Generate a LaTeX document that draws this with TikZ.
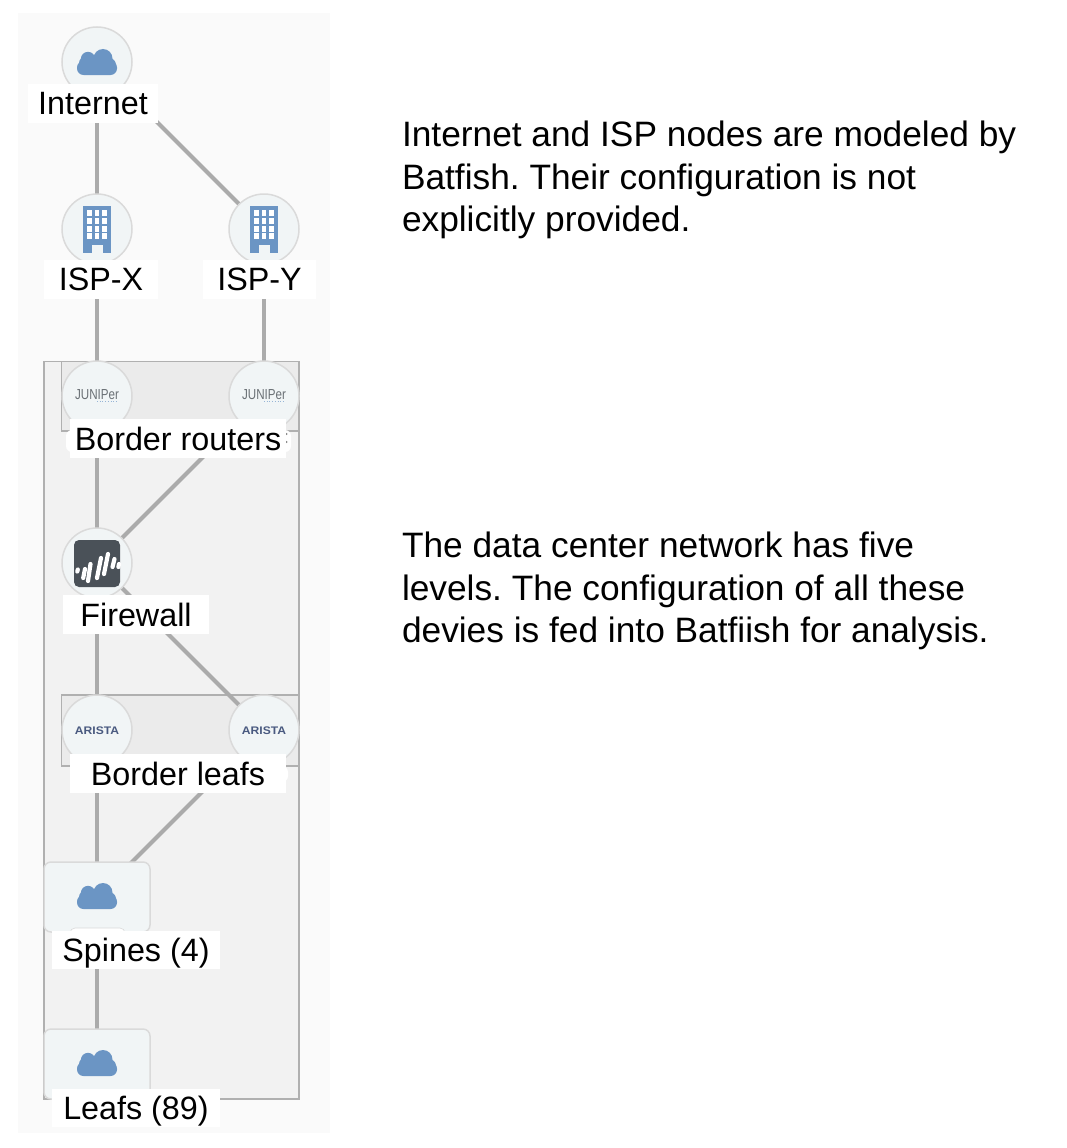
\documentclass[tikz,border=0pt]{standalone}
\usepackage{fontspec}
\setmainfont{Liberation Sans}
\definecolor{panel}{HTML}{FAFAFA}
\definecolor{grp}{HTML}{F2F2F2}
\definecolor{grpin}{HTML}{EBEBEB}
\definecolor{grpline}{HTML}{B0B0B0}
\definecolor{edge}{HTML}{ABABAB}
\definecolor{nodefill}{HTML}{F1F5F6}
\definecolor{nodeline}{HTML}{DADADA}
\definecolor{iconblue}{HTML}{6B95C4}
\definecolor{fwdark}{HTML}{4A5158}
\definecolor{arista}{HTML}{4A5A80}
\definecolor{junip}{HTML}{6A7075}
\tikzset{
  x=1pt,y=-1pt,
  every node/.style={inner sep=0pt,outer sep=0pt},
  device/.style={circle,minimum size=70pt,fill=nodefill,draw=nodeline,line width=1.5pt},
  clusterbox/.style={rectangle,minimum width=106pt,minimum height=70pt,rounded corners=7pt,fill=nodefill,draw=nodeline,line width=1.5pt},
  link/.style={draw=edge,line width=4pt},
  lab/.style={fill=white,font=\fontsize{32.3}{38}\selectfont,text=black,text depth=0pt,anchor=center,align=center},
  note/.style={anchor=north west,align=left,font=\frenchspacing\fontsize{35.3}{42.5}\selectfont,text=black},
  groupbox/.style={draw=grpline,line width=1.5pt}
}
\newcommand{\cloudicon}[2]{% center x, top y
  \fill[iconblue,rounded corners=6.5pt] (#1-20,#2+12) rectangle (#1+20,#2+26);
  \fill[iconblue] (#1-9,#2+10) circle[radius=7.2];
  \fill[iconblue] (#1+6,#2+9.5) circle[radius=9.5];
  \fill[iconblue] (#1-12,#2+14) circle[radius=6];
  \fill[iconblue] (#1+12,#2+16) circle[radius=7];
}
\newcommand{\buildingicon}[1]{% center x; top y 206
  \fill[iconblue] (#1-14,206) rectangle (#1+14,253);
  \foreach \cx in {-10,-2.5,5.2}{
    \foreach \ry in {210,218,226,233}{
      \fill[white] (#1+\cx,\ry) rectangle ++(4.7,6);
    }
  }
  \fill[nodefill] (#1-5.5,245) rectangle (#1+5.5,253);
}
\newcommand{\juniperlogo}[1]{%
  \node[font=\fontsize{14.5}{15}\selectfont,text=junip,xscale=0.8] at (#1,395) {JUNIPer};
  \draw[iconblue!70,line width=0.7pt,dotted] (#1+0,401.5) -- (#1+19,401.5);
}
\begin{document}
\begin{tikzpicture}
\useasboundingbox (0,0) rectangle (1066,1148);
\fill[white] (0,0) rectangle (1066,1148);
\fill[panel] (18,13) rectangle (330,1133);
\filldraw[fill=grp,groupbox] (44,361.5) rectangle (299,1099);
\filldraw[fill=grpin,groupbox] (61.5,361.5) rectangle (299,431);
\filldraw[fill=grpin,groupbox] (61.5,695) rectangle (299,766);

% devices
\coordinate (cInternet) at (97,62);
\coordinate (cIspx) at (97,229);
\coordinate (cIspy) at (264,229);
\coordinate (cJa) at (97,396);
\coordinate (cJb) at (264,396);
\coordinate (cFw) at (97,563);
\coordinate (cAa) at (97,730);
\coordinate (cAb) at (264,730);
\coordinate (cSp) at (97,897);
\coordinate (cLf) at (97,1064);

\draw[link] (cInternet) -- (cIspx);
\draw[link] (cInternet) -- (cIspy);
\draw[link] (cIspx) -- (cJa);
\draw[link] (cIspy) -- (cJb);
\draw[link] (cJa) -- (cFw);
\draw[link] (cJb) -- (cFw);
\draw[link] (cFw) -- (cAa);
\draw[link] (cFw) -- (cAb);
\draw[link] (cAa) -- (cSp);
\draw[link] (cAb) -- (cSp);
\draw[link] (cSp) -- (cLf);

\node[device] (internet) at (cInternet) {};
\node[device] (ispx) at (cIspx) {};
\node[device] (ispy) at (cIspy) {};
\node[device] (ja) at (cJa) {};
\node[device] (jb) at (cJb) {};
\node[device] (fw) at (cFw) {};
\node[device] (aa) at (cAa) {};
\node[device] (ab) at (cAb) {};
\node[clusterbox] (spines) at (cSp) {};
\node[clusterbox] (leafs) at (cLf) {};

% icons
\cloudicon{97}{49}
\cloudicon{97}{883}
\cloudicon{97}{1050}
\buildingicon{97}
\buildingicon{264}
\juniperlogo{97}
\juniperlogo{264}
\node[font=\fontsize{11}{12}\bfseries\selectfont,text=arista,xscale=1.1] at (97,730.7) {ARISTA};
\node[font=\fontsize{11}{12}\bfseries\selectfont,text=arista,xscale=1.1] at (264,730.7) {ARISTA};
\fill[fwdark,rounded corners=5pt] (74,540) rectangle (120,587);
\begin{scope}[white,line width=4.2pt,line cap=round]
  \draw (77.8,569.5) -- (77.3,571.5);
  \draw (85,569) -- (83.2,578);
  \draw (90.5,564) -- (88,581);
  \draw (101,558) -- (97,578);
  \draw (108,554) -- (104,574);
  \draw (114.5,559) -- (112.5,567);
  \draw (119,564) -- (118.4,567);
\end{scope}

% hidden original label pills
\fill[white,rounded corners=6pt] (66,430) rectangle (291,452);
\fill[white,rounded corners=6pt] (270,766) rectangle (288,782);
\fill[white,draw=nodeline,line width=0.6pt,rounded corners=5pt] (70,928) rectangle (125,940);
\fill[black!45] (286.5,434) circle[radius=1.1] (286.5,442) circle[radius=1.1];

% labels
\node[lab,minimum width=130pt,minimum height=39pt] (lInternet) at (93,103.5) {Internet};
\node[lab,minimum width=114pt,minimum height=39pt] (lIspx) at (101,279.5) {ISP-X};
\node[lab,minimum width=113pt,minimum height=39pt] (lIspy) at (259.5,279.5) {ISP-Y};
\node[lab,minimum width=216pt,minimum height=39pt] (lBr) at (178,438.5) {Border routers};
\node[lab,minimum width=146pt,minimum height=39pt] (lFw) at (136,614.5) {Firewall};
\node[lab,minimum width=216pt,minimum height=39pt] (lBl) at (178,773.5) {Border leafs};
\node[lab,minimum width=168pt,minimum height=38pt] (lSp) at (136,950) {Spines (4)};
\node[lab,minimum width=168pt,minimum height=38pt] (lLf) at (136,1108) {Leafs (89)};

% notes
\node[note] (n1) at (402,121) {Internet and ISP nodes are modeled by\\Batfish. Their configuration is not\\explicitly provided.};
\node[note] (n2) at (402,532) {The data center network has five\\levels. The configuration of all these\\devies is fed into Batfiish for analysis.};
\end{tikzpicture}
\end{document}
